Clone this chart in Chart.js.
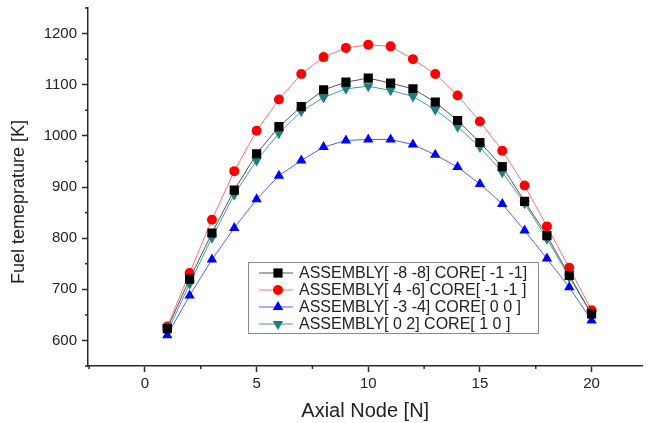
<!DOCTYPE html>
<html>
<head>
<meta charset="utf-8">
<script src="https://cdn.jsdelivr.net/npm/chart.js@4/dist/chart.umd.min.js"></script>
<style>
  html, body { margin: 0; padding: 0; background: #fff; }
  #wrap { width: 649px; height: 423px; }
</style>
</head>
<body>
<div id="wrap"><canvas id="chart"></canvas></div>
<script>
// Axial nodes
const nodes = [1, 2, 3, 4, 5, 6, 7, 8, 9, 10, 11, 12, 13, 14, 15, 16, 17, 18, 19, 20];

// Fuel temperature per node [K]
const tempA = [623, 720, 810, 894, 965, 1018, 1057, 1090, 1105, 1113, 1103, 1092, 1066, 1030, 987, 940, 872, 805, 727, 652];
const tempB = [627, 732, 836, 931, 1010, 1071, 1121, 1154, 1172, 1178, 1175, 1150, 1121, 1079, 1028, 971, 903, 823, 742, 659];
const tempC = [610, 688, 758, 820, 876, 922, 952, 978, 991, 993, 993, 983, 963, 939, 906, 867, 815, 760, 704, 639];
const tempD = [616, 711, 801, 885, 952, 1005, 1048, 1075, 1092, 1097, 1089, 1077, 1051, 1018, 978, 929, 868, 799, 724, 651];

const seriesLabels = [
    "ASSEMBLY[ -8 -8] CORE[ -1 -1]",
    "ASSEMBLY[ 4 -6] CORE[ -1 -1 ]",
    "ASSEMBLY[ -3 -4] CORE[ 0 0 ]",
    "ASSEMBLY[ 0 2] CORE[ 1 0 ]"
];

const FONT = "'Liberation Sans', Arial, sans-serif";
const AXIS_COLOR = "#2a2a2a";
const TEXT_COLOR = "#222";

function toPoints(values) {
    return nodes.map((n, i) => ({ x: n, y: values[i] }));
}

function makeSet(label, values, lineColor, markColor, style, radius, rotation) {
    return {
        label: label,
        data: toPoints(values),
        borderColor: lineColor,
        borderWidth: 1,
        backgroundColor: markColor,
        pointBackgroundColor: markColor,
        pointBorderColor: markColor,
        pointBorderWidth: 0,
        pointStyle: style,
        pointRadius: radius,
        pointRotation: rotation,
        tension: 0
    };
}

// Short minor ticks outside the axes
const minorTicks = {
    id: "minorTicks",
    afterDraw(chart) {
        const ctx = chart.ctx;
        const xs = chart.scales.x, ys = chart.scales.y;
        ctx.save();
        ctx.strokeStyle = AXIS_COLOR;
        ctx.lineWidth = 1.5;
        xs.ticks.forEach(t => {
            if (t.value % 5 === 0) return;
            const px = xs.getPixelForValue(t.value);
            ctx.beginPath();
            ctx.moveTo(px, xs.top);
            ctx.lineTo(px, xs.top + 3);
            ctx.stroke();
        });
        ys.ticks.forEach(t => {
            if (t.value % 100 === 0) return;
            const py = ys.getPixelForValue(t.value);
            ctx.beginPath();
            ctx.moveTo(ys.right, py);
            ctx.lineTo(ys.right - 3, py);
            ctx.stroke();
        });
        ctx.restore();
    }
};

// Boxed legend inside the plot, like the original figure
const boxLegend = {
    id: "boxLegend",
    afterDraw(chart) {
        const ctx = chart.ctx;
        const left = 248, top = 262, w = 290, h = 71;
        ctx.save();
        ctx.fillStyle = "#fff";
        ctx.fillRect(left, top, w, h);
        ctx.strokeStyle = "#8a8a8a";
        ctx.lineWidth = 1;
        ctx.strokeRect(left + 0.5, top + 0.5, w, h);
        ctx.font = "16px " + FONT;
        ctx.textBaseline = "middle";
        chart.data.datasets.forEach((ds, i) => {
            const y = top + 11 + i * 17;
            ctx.strokeStyle = ds.borderColor;
            ctx.lineWidth = 1;
            ctx.beginPath();
            ctx.moveTo(left + 11, y);
            ctx.lineTo(left + 45, y);
            ctx.stroke();
            ctx.fillStyle = ds.pointBackgroundColor;
            ctx.strokeStyle = ds.pointBackgroundColor;
            Chart.helpers.drawPoint(ctx, {
                pointStyle: ds.pointStyle,
                radius: ds.pointRadius,
                rotation: ds.pointRotation,
                borderWidth: 0
            }, left + 30, y);
            ctx.fillStyle = TEXT_COLOR;
            ctx.fillText(ds.label, left + 51, y + 1);
        });
        ctx.restore();
    }
};

new Chart(document.getElementById("chart"), {
    type: "line",
    data: {
        datasets: [
            makeSet(seriesLabels[0], tempA, "#555555", "#000000", "rect", 6.5, 0),
            makeSet(seriesLabels[1], tempB, "#ff7070", "#ff0000", "circle", 5, 0),
            makeSet(seriesLabels[2], tempC, "#5a5aff", "#0000ff", "triangle", 6, 0),
            makeSet(seriesLabels[3], tempD, "#3fa0a0", "#1b7f7f", "triangle", 6, 180)
        ]
    },
    options: {
        responsive: true,
        maintainAspectRatio: false,
        animation: false,
        layout: { padding: { left: 8, right: 0, top: 8, bottom: 0 } },
        plugins: {
            legend: { display: false },
            tooltip: { enabled: false }
        },
        scales: {
            x: {
                type: "linear",
                min: -2.55,
                max: 22.28,
                afterFit(scale) {
                    scale.height = 57;
                    scale.paddingLeft = 0;
                    scale.paddingRight = 0;
                },
                border: { display: true, color: AXIS_COLOR, width: 1.5 },
                grid: {
                    drawOnChartArea: false,
                    drawTicks: true,
                    tickLength: 6,
                    tickWidth: 1.5,
                    tickColor: c => (c.tick && c.tick.value % 5 === 0) ? AXIS_COLOR : "rgba(0,0,0,0)"
                },
                ticks: {
                    stepSize: 2.5,
                    includeBounds: false,
                    autoSkip: false,
                    maxRotation: 0,
                    padding: 3,
                    color: TEXT_COLOR,
                    font: { family: FONT, size: 15 },
                    callback: v => (v % 5 === 0 && v >= 0 && v <= 20) ? String(v) : ""
                },
                title: {
                    display: true,
                    text: "Axial Node [N]",
                    color: TEXT_COLOR,
                    font: { family: FONT, size: 20 },
                    padding: { top: 0, bottom: 0 }
                }
            },
            y: {
                type: "linear",
                min: 550,
                max: 1250,
                afterFit(scale) {
                    scale.width = 80;
                    scale.paddingTop = 0;
                    scale.paddingBottom = 0;
                },
                border: { display: true, color: AXIS_COLOR, width: 1.5 },
                grid: {
                    drawOnChartArea: false,
                    drawTicks: true,
                    tickLength: 6,
                    tickWidth: 1.5,
                    tickColor: c => (c.tick && c.tick.value % 100 === 0) ? AXIS_COLOR : "rgba(0,0,0,0)"
                },
                ticks: {
                    stepSize: 50,
                    autoSkip: false,
                    padding: 5,
                    color: TEXT_COLOR,
                    font: { family: FONT, size: 15 },
                    callback: v => (v % 100 === 0 && v >= 600 && v <= 1200) ? String(v) : ""
                },
                title: {
                    display: true,
                    text: "Fuel temeprature [K]      ",
                    color: TEXT_COLOR,
                    font: { family: FONT, size: 18 },
                    padding: { top: 0, bottom: 0 }
                }
            }
        }
    },
    plugins: [minorTicks, boxLegend]
});
</script>
</body>
</html>
